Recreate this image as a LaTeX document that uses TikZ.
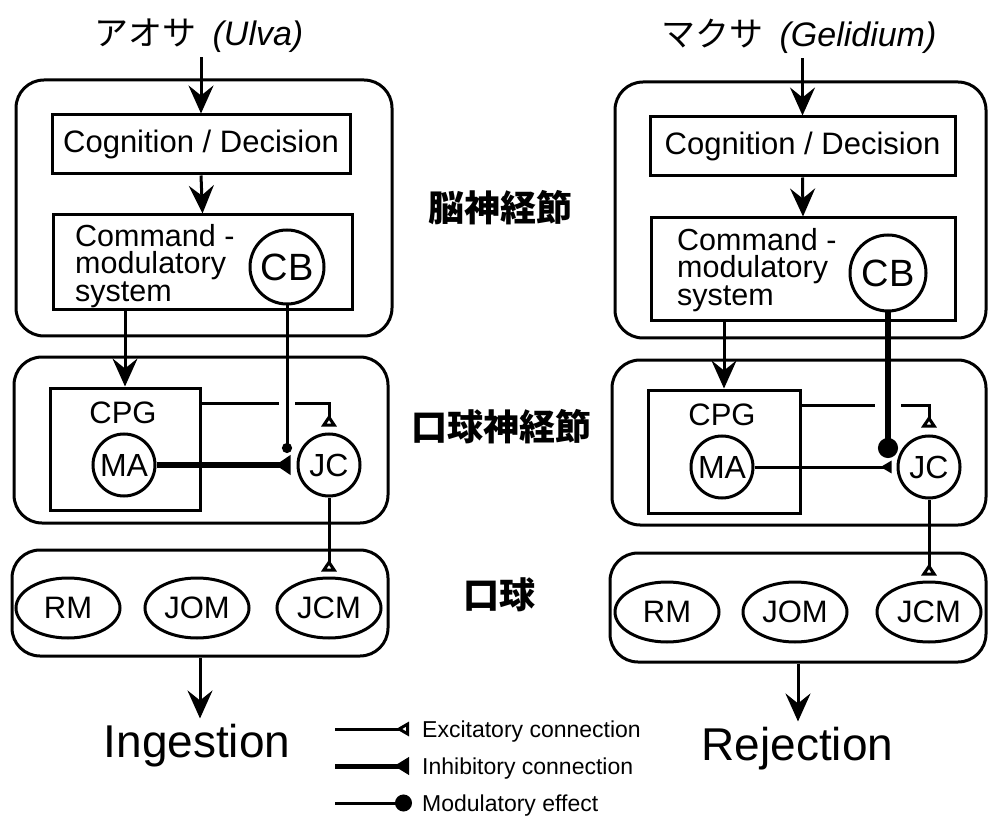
\documentclass[tikz,border=0pt]{standalone}
\usepackage{fontspec}
\setmainfont{Liberation Sans}
\newfontfamily\cjk{Noto Sans CJK JP}
\usetikzlibrary{arrows.meta,shapes.geometric}
\newcommand\fsz[1]{\fontsize{#1}{#1}\selectfont}
\begin{document}
\begin{tikzpicture}[x=1pt,y=-1pt,
  box/.style={draw, line width=3pt, rectangle, inner sep=0pt},
  panel/.style={box, rounded corners=28pt},
  circ/.style={draw, line width=3pt, circle, inner sep=0pt, minimum size=62pt, font=\fsz{32}},
  musc/.style={draw, line width=3pt, ellipse, inner sep=0pt, minimum width=104pt, minimum height=60pt, font=\fsz{31}},
  lbl/.style={inner sep=0pt, font=\fsz{31}},
  cmdtext/.style={inner sep=0pt, anchor=north west, align=left, font=\fontsize{30.5}{27.5}\selectfont},
  side/.style={inner sep=0pt, font=\fsz{36}\cjk\bfseries},
  legt/.style={inner sep=0pt, anchor=base west, font=\fsz{23}},
  bigarrow/.style={line width=3pt, -{Stealth[length=28pt,width=25pt,inset=10pt]}},
  exc/.style={line width=3pt, -{Triangle[open,reversed,length=12pt,width=15pt]}},
  inhthick/.style={line width=6pt, -{Triangle[reversed,length=15pt,width=19pt]}},
  inhthin/.style={line width=3pt, -{Triangle[reversed,length=11pt,width=12pt]}},
  modthin/.style={line width=3pt, -{Circle[length=10pt]}},
  modthick/.style={line width=6.5pt, -{Circle[length=20pt]}},
  gap/.style={draw=white, line width=6pt}
]
\useasboundingbox (0,0) rectangle (988,818);

% ---------------- titles ----------------
\node[inner sep=0pt, anchor=base, font=\fsz{34}] (titleL) at (199,46) {{\cjk アオサ}\hspace{16pt}\textit{(Ulva)}};
\node[inner sep=0pt, anchor=base, font=\fsz{34}] (titleR) at (799,47) {{\cjk マクサ}\hspace{16pt}\textit{(Gelidium)}};

% ---------------- side labels ----------------
\node[side] (sideA) at (500,208) {脳神経節};
\node[side] (sideB) at (501,427) {口球神経節};
\node[side] (sideC) at (499,595) {口球};

% ---------------- left panel ----------------
\node[panel, minimum width=376pt, minimum height=256pt] (brainL) at (204,208) {};
\node[box, minimum width=298pt, minimum height=59pt, font=\fsz{31}] (cogL) at (201,144.5) {Cognition / Decision};
\node[box, minimum width=299pt, minimum height=95pt] (cmdL) at (202.5,262.5) {};
\node[cmdtext] (cmdLt) at (75,224) {Command -\\modulatory\\system};
\node[circ, minimum size=74pt, font=\fsz{38}] (cbL) at (287,267) {CB};
\node[panel, minimum width=374pt, minimum height=166pt] (bucL) at (201,440) {};
\node[box, minimum width=150pt, minimum height=122pt] (cpgL) at (125,449) {};
\node[lbl] (cpgLt) at (123,413) {CPG};
\node[circ] (maL) at (124,465) {MA};
\node[circ] (jcL) at (329,465) {JC};
\node[panel, minimum width=376pt, minimum height=106pt] (massL) at (200,603) {};
\node[musc] (rmL) at (68,608) {RM};
\node[musc] (jomL) at (197,608) {JOM};
\node[musc] (jcmL) at (329,608) {JCM};
\node[inner sep=0pt, anchor=base, font=\fsz{46}] (ingL) at (197,757) {Ingestion};

\draw[bigarrow, shorten <=4pt] (titleL.south -| cogL.north) -- (cogL.north);
\draw[bigarrow] (cogL.south) -- (cmdL.north);
\draw[bigarrow] (cpgL.north |- cmdL.south) -- (cpgL.north);
\draw[exc, shorten >=6pt] (cpgL.north east) ++(0,17) -| (jcL.north);
\draw[gap] (279,405) -- (295,405);
\coordinate (modL) at (287,453);
\draw[modthin] (cbL.south) -- (modL);
\draw[inhthick, shorten >=6pt] (maL.east) -- (jcL.west);
\draw[exc, shorten >=5pt] (jcL.south) -- (jcmL.north);
\draw[bigarrow, shorten >=5pt] (massL.south) -- (massL.south |- ingL.north);

% ---------------- right panel ----------------
\node[panel, minimum width=371pt, minimum height=256pt] (brainR) at (800.5,210) {};
\node[box, minimum width=305pt, minimum height=59pt, font=\fsz{31}] (cogR) at (802.5,146.5) {Cognition / Decision};
\node[box, minimum width=304pt, minimum height=103pt] (cmdR) at (803,269.5) {};
\node[cmdtext] (cmdRt) at (677,228) {Command -\\modulatory\\system};
\node[circ, minimum size=76pt, font=\fsz{38}] (cbR) at (888,273) {CB};
\node[panel, minimum width=374pt, minimum height=165pt] (bucR) at (799,442.5) {};
\node[box, minimum width=152pt, minimum height=123pt] (cpgR) at (724,451.5) {};
\node[lbl] (cpgRt) at (722,415) {CPG};
\node[circ] (maR) at (722,467) {MA};
\node[circ] (jcR) at (929,467) {JC};
\node[panel, minimum width=376pt, minimum height=109pt] (massR) at (798,607.5) {};
\node[musc] (rmR) at (667,612) {RM};
\node[musc] (jomR) at (795,612) {JOM};
\node[musc] (jcmR) at (929,612) {JCM};
\node[inner sep=0pt, anchor=base, font=\fsz{46}] (rejR) at (797.5,760) {Rejection};

\draw[bigarrow, shorten <=4pt] (titleR.south -| cogR.north) -- (cogR.north);
\draw[bigarrow] (cogR.south) -- (cmdR.north);
\draw[bigarrow] (cpgR.north |- cmdR.south) -- (cpgR.north);
\draw[exc, shorten >=7pt] (cpgR.north east) ++(0,17) -| (jcR.north);
\draw[gap] (875,407) -- (901,407);
\coordinate (modR) at (888,458);
\draw[modthick] (cbR.south) -- (modR);
\draw[inhthin, shorten >=5pt] (maR.east) -- (jcR.west);
\draw[exc, shorten >=5pt] (jcR.south) -- (jcmR.north);
\draw[bigarrow, shorten >=5pt] (massR.south) -- (massR.south |- rejR.north);

% ---------------- legend ----------------
\coordinate (le1) at (335,729); \coordinate (le2) at (409,729);
\coordinate (li1) at (335,766); \coordinate (li2) at (409,766);
\coordinate (lm1) at (335,803); \coordinate (lm2) at (412,803);
\draw[line width=3pt, -{Triangle[open,reversed,length=13pt,width=14pt]}] (le1) -- (le2);
\draw[line width=5pt, -{Triangle[reversed,length=15pt,width=17pt]}] (li1) -- (li2);
\draw[line width=3pt, -{Circle[length=17pt]}] (lm1) -- (lm2);
\node[legt] (lexc) at (422,737) {Excitatory connection};
\node[legt] (linh) at (422,774) {Inhibitory connection};
\node[legt] (lmod) at (422,811) {Modulatory effect};
\end{tikzpicture}
\end{document}
